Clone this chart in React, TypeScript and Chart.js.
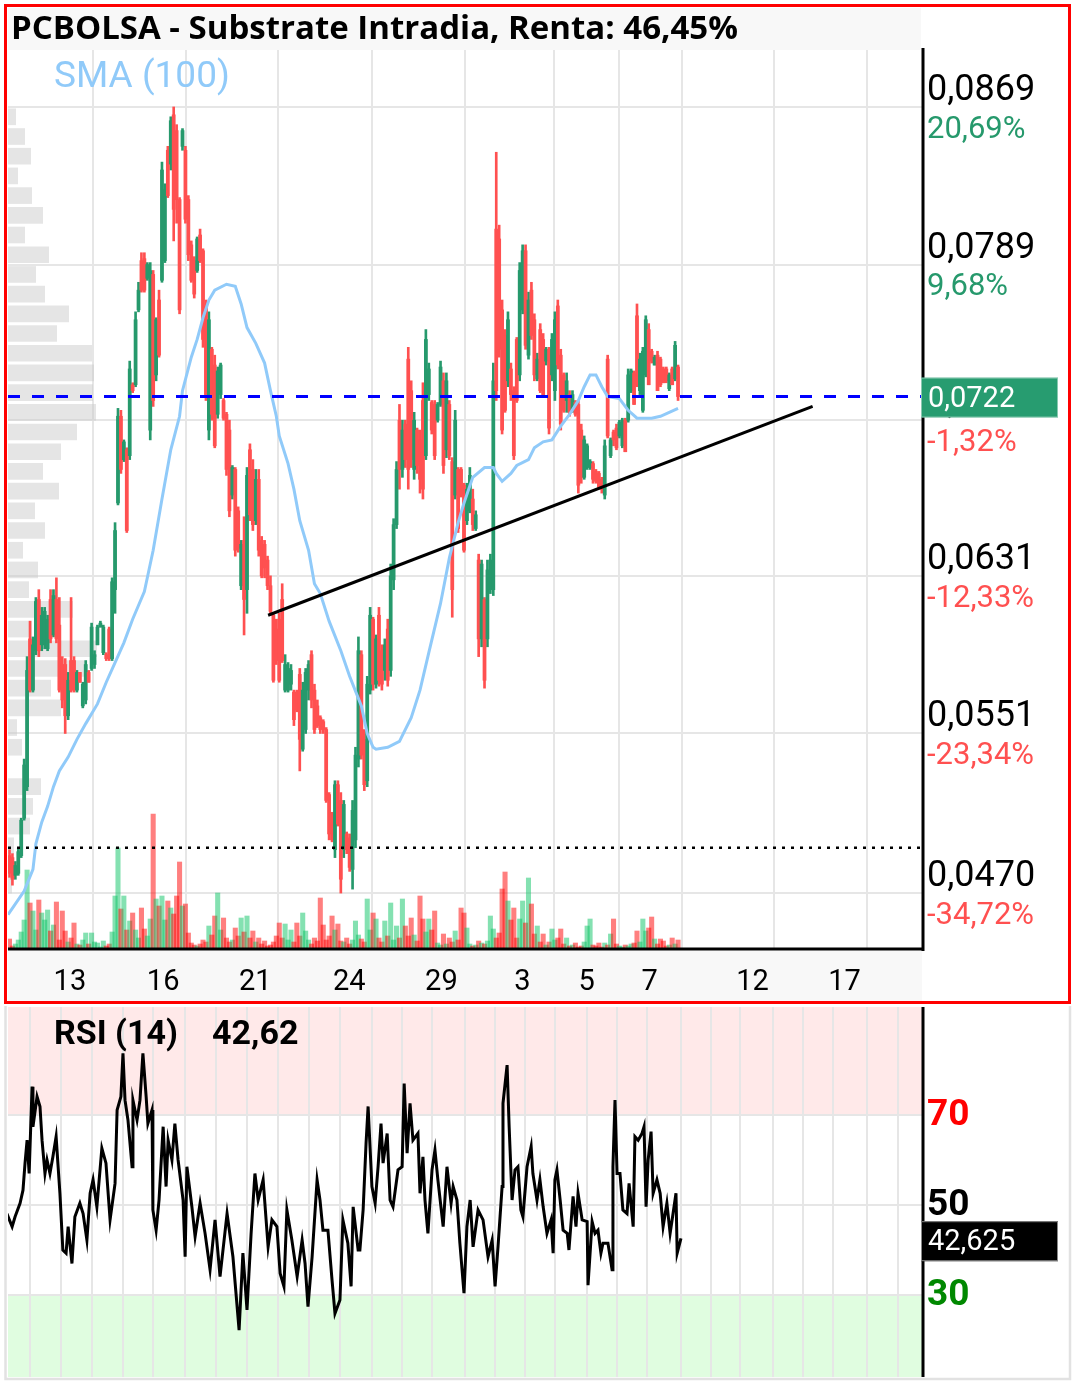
import React, { useEffect, useRef } from 'react';
import { Chart, registerables } from 'chart.js';
Chart.register(...registerables);

// ---------------- data ----------------
const openP = [
0.0489,0.0488,0.0479,0.0480,0.0489,0.0508,0.0524,0.0599,0.0573,0.0593,
0.0619,0.0596,0.0596,0.0594,0.0619,0.0601,0.0619,0.0606,0.0586,0.0586,
0.0560,0.0588,0.0588,0.0573,0.0582,0.0565,0.0568,0.0582,0.0584,0.0586,
0.0596,0.0605,0.0592,0.0591,0.0604,0.0589,0.0624,0.0668,0.0712,0.0690,
0.0695,0.0692,0.0728,0.0728,0.0766,0.0791,0.0792,0.0782,0.0705,0.0784,
0.0733,0.0771,0.0781,0.0791,0.0847,0.0840,0.0865,0.0857,0.0822,0.0849,
0.0847,0.0822,0.0799,0.0791,0.0786,0.0804,0.0796,0.0768,0.0705,0.0746,
0.0738,0.0713,0.0723,0.0720,0.0713,0.0705,0.0672,0.0685,0.0664,0.0626,
0.0649,0.0624,0.0695,0.0685,0.0659,0.0680,0.0649,0.0647,0.0639,0.0626,
0.0611,0.0604,0.0609,0.0619,0.0573,0.0573,0.0576,0.0572,0.0572,0.0581,
0.0543,0.0553,0.0573,0.0591,0.0573,0.0565,0.0559,0.0557,0.0553,0.0520,
0.0510,0.0492,0.0525,0.0517,0.0492,0.0500,0.0498,0.0482,0.0497,0.0538,
0.0591,0.0548,0.0527,0.0573,0.0609,0.0576,0.0611,0.0593,0.0583,0.0604,
0.0583,0.0629,0.0657,0.0710,0.0685,0.0708,0.0741,0.0725,0.0685,0.0705,
0.0700,0.0720,0.0692,0.0723,0.0719,0.0718,0.0710,0.0718,0.0730,0.0695,
0.0718,0.0689,0.0672,0.0685,0.0685,0.0677,0.0659,0.0664,0.0670,0.0655,
0.0639,0.0599,0.0619,0.0599,0.0624,0.0624,0.0807,0.0802,0.0766,0.0753,
0.0730,0.0736,0.0725,0.0751,0.0733,0.0766,0.0796,0.0743,0.0776,0.0761,
0.0731,0.0756,0.0751,0.0740,0.0746,0.0733,0.0725,0.0768,0.0743,0.0733,
0.0720,0.0723,0.0715,0.0719,0.0718,0.0705,0.0681,0.0686,0.0686,0.0688,
0.0684,0.0683,0.0680,0.0672,0.0741,0.0692,0.0704,0.0706,0.0702,0.0697,
0.0710,0.0710,0.0725,0.0734,0.0763,0.0725,0.0715,0.0733,0.0756,0.0745,
0.0738,0.0743,0.0741,0.0736,0.0736,0.0726,0.0736,0.0731,0.0737];

const highP = [
0.0492,0.0490,0.0486,0.0493,0.0508,0.0538,0.0590,0.0608,0.0600,0.0620,
0.0624,0.0615,0.0615,0.0611,0.0624,0.0624,0.0630,0.0620,0.0590,0.0589,
0.0582,0.0620,0.0590,0.0583,0.0582,0.0577,0.0588,0.0583,0.0607,0.0593,
0.0606,0.0608,0.0606,0.0592,0.0605,0.0630,0.0658,0.0716,0.0715,0.0700,
0.0696,0.0740,0.0729,0.0765,0.0780,0.0795,0.0795,0.0790,0.0790,0.0786,
0.0762,0.0776,0.0841,0.0830,0.0849,0.0864,0.0869,0.0860,0.0823,0.0858,
0.0849,0.0824,0.0801,0.0793,0.0803,0.0807,0.0797,0.0771,0.0765,0.0747,
0.0743,0.0737,0.0739,0.0721,0.0714,0.0710,0.0687,0.0686,0.0666,0.0649,
0.0661,0.0686,0.0698,0.0690,0.0685,0.0685,0.0651,0.0649,0.0641,0.0631,
0.0612,0.0609,0.0612,0.0627,0.0591,0.0587,0.0586,0.0573,0.0573,0.0584,
0.0577,0.0584,0.0588,0.0593,0.0576,0.0568,0.0560,0.0558,0.0554,0.0521,
0.0511,0.0527,0.0527,0.0521,0.0517,0.0501,0.0500,0.0517,0.0544,0.0600,
0.0593,0.0553,0.0580,0.0615,0.0610,0.0601,0.0615,0.0596,0.0599,0.0609,
0.0637,0.0660,0.0689,0.0718,0.0710,0.0710,0.0747,0.0730,0.0714,0.0706,
0.0705,0.0729,0.0756,0.0739,0.0720,0.0720,0.0719,0.0740,0.0734,0.0734,
0.0720,0.0691,0.0715,0.0686,0.0686,0.0678,0.0678,0.0686,0.0675,0.0664,
0.0642,0.0639,0.0620,0.0639,0.0642,0.0739,0.0846,0.0809,0.0771,0.0756,
0.0765,0.0739,0.0727,0.0752,0.0790,0.0799,0.0799,0.0775,0.0780,0.0764,
0.0744,0.0759,0.0754,0.0747,0.0747,0.0754,0.0765,0.0771,0.0746,0.0734,
0.0734,0.0725,0.0725,0.0720,0.0720,0.0708,0.0702,0.0698,0.0690,0.0689,
0.0685,0.0684,0.0681,0.0700,0.0743,0.0701,0.0705,0.0708,0.0710,0.0711,
0.0711,0.0736,0.0736,0.0735,0.0769,0.0744,0.0747,0.0763,0.0759,0.0746,
0.0743,0.0745,0.0742,0.0737,0.0737,0.0734,0.0737,0.0750,0.0738];

const lowP = [
0.0478,0.0474,0.0477,0.0479,0.0488,0.0507,0.0522,0.0572,0.0572,0.0591,
0.0590,0.0593,0.0594,0.0593,0.0597,0.0600,0.0597,0.0572,0.0564,0.0551,
0.0558,0.0572,0.0572,0.0572,0.0577,0.0564,0.0566,0.0577,0.0583,0.0584,
0.0596,0.0605,0.0591,0.0588,0.0588,0.0588,0.0612,0.0667,0.0683,0.0689,
0.0653,0.0690,0.0724,0.0727,0.0765,0.0775,0.0775,0.0781,0.0700,0.0717,
0.0730,0.0742,0.0780,0.0790,0.0823,0.0837,0.0801,0.0810,0.0764,0.0847,
0.0810,0.0791,0.0780,0.0772,0.0785,0.0790,0.0747,0.0720,0.0700,0.0710,
0.0696,0.0711,0.0721,0.0710,0.0682,0.0661,0.0670,0.0641,0.0643,0.0624,
0.0601,0.0612,0.0659,0.0654,0.0657,0.0641,0.0630,0.0630,0.0624,0.0611,
0.0577,0.0586,0.0577,0.0587,0.0572,0.0572,0.0573,0.0555,0.0562,0.0532,
0.0542,0.0551,0.0568,0.0564,0.0551,0.0554,0.0551,0.0551,0.0516,0.0497,
0.0496,0.0488,0.0504,0.0470,0.0488,0.0490,0.0481,0.0472,0.0493,0.0534,
0.0538,0.0522,0.0524,0.0571,0.0573,0.0574,0.0575,0.0573,0.0578,0.0575,
0.0580,0.0624,0.0655,0.0675,0.0681,0.0686,0.0675,0.0686,0.0680,0.0683,
0.0673,0.0670,0.0690,0.0720,0.0703,0.0690,0.0709,0.0717,0.0683,0.0691,
0.0690,0.0610,0.0670,0.0653,0.0671,0.0643,0.0657,0.0663,0.0654,0.0654,
0.0590,0.0595,0.0574,0.0595,0.0622,0.0621,0.0720,0.0742,0.0703,0.0714,
0.0727,0.0720,0.0690,0.0719,0.0730,0.0764,0.0746,0.0741,0.0751,0.0730,
0.0730,0.0724,0.0722,0.0738,0.0703,0.0730,0.0720,0.0736,0.0705,0.0714,
0.0714,0.0712,0.0714,0.0712,0.0673,0.0678,0.0680,0.0685,0.0685,0.0678,
0.0678,0.0675,0.0673,0.0670,0.0701,0.0691,0.0697,0.0695,0.0701,0.0696,
0.0694,0.0709,0.0724,0.0718,0.0727,0.0723,0.0714,0.0732,0.0728,0.0739,
0.0738,0.0725,0.0727,0.0729,0.0729,0.0725,0.0728,0.0730,0.0720];

const closeP = [
0.0480,0.0477,0.0484,0.0491,0.0507,0.0535,0.0583,0.0573,0.0596,0.0618,
0.0593,0.0611,0.0613,0.0609,0.0599,0.0621,0.0599,0.0573,0.0568,0.0560,
0.0578,0.0573,0.0573,0.0582,0.0577,0.0576,0.0586,0.0577,0.0605,0.0591,
0.0605,0.0607,0.0605,0.0589,0.0589,0.0628,0.0654,0.0712,0.0685,0.0699,
0.0654,0.0736,0.0725,0.0761,0.0776,0.0776,0.0776,0.0789,0.0786,0.0720,
0.0761,0.0743,0.0837,0.0827,0.0824,0.0862,0.0817,0.0822,0.0766,0.0857,
0.0812,0.0794,0.0781,0.0774,0.0802,0.0791,0.0751,0.0723,0.0761,0.0713,
0.0697,0.0735,0.0738,0.0711,0.0685,0.0664,0.0686,0.0644,0.0645,0.0647,
0.0619,0.0682,0.0662,0.0657,0.0680,0.0644,0.0631,0.0635,0.0626,0.0613,
0.0578,0.0588,0.0578,0.0588,0.0586,0.0584,0.0583,0.0558,0.0563,0.0548,
0.0573,0.0582,0.0586,0.0568,0.0553,0.0555,0.0553,0.0553,0.0517,0.0500,
0.0497,0.0525,0.0505,0.0477,0.0515,0.0492,0.0483,0.0512,0.0540,0.0593,
0.0540,0.0525,0.0576,0.0611,0.0576,0.0599,0.0578,0.0576,0.0596,0.0578,
0.0631,0.0657,0.0685,0.0685,0.0705,0.0690,0.0685,0.0690,0.0710,0.0687,
0.0680,0.0675,0.0751,0.0736,0.0705,0.0692,0.0718,0.0737,0.0687,0.0730,
0.0692,0.0624,0.0710,0.0655,0.0672,0.0644,0.0675,0.0682,0.0657,0.0662,
0.0599,0.0637,0.0578,0.0634,0.0639,0.0730,0.0725,0.0746,0.0705,0.0715,
0.0761,0.0723,0.0692,0.0720,0.0786,0.0796,0.0748,0.0771,0.0753,0.0733,
0.0741,0.0725,0.0723,0.0746,0.0706,0.0751,0.0761,0.0738,0.0708,0.0715,
0.0730,0.0714,0.0723,0.0713,0.0677,0.0681,0.0700,0.0697,0.0689,0.0680,
0.0679,0.0676,0.0675,0.0697,0.0702,0.0700,0.0700,0.0696,0.0709,0.0710,
0.0694,0.0733,0.0735,0.0718,0.0728,0.0741,0.0745,0.0761,0.0728,0.0740,
0.0742,0.0725,0.0728,0.0729,0.0730,0.0733,0.0728,0.0748,0.0722];

const volume = [
11,4,6,10,18,30,80,47,39,20,
50,37,30,40,19,25,48,10,39,19,
8,12,27,6,5,10,17,6,17,8,
7,3,9,4,6,18,54,102,41,54,
20,29,37,20,12,42,21,14,31,136,
51,44,54,30,49,42,36,54,88,44,
46,17,7,5,4,6,10,8,24,15,
34,57,20,32,12,8,10,22,14,32,
18,34,12,19,8,12,6,9,4,5,
8,14,27,12,26,10,20,8,27,14,
37,19,10,6,12,9,52,25,10,14,
34,20,26,9,8,12,6,10,29,15,
11,8,51,20,37,31,12,8,29,14,
47,10,24,12,51,24,14,32,15,9,
54,31,18,31,20,39,7,5,16,6,
12,8,19,10,42,37,22,6,4,5,
9,7,6,9,34,21,12,17,61,78,
49,30,42,12,31,49,27,72,46,16,
24,8,16,5,8,21,10,12,21,6,
12,4,5,7,3,4,8,24,31,5,
4,7,3,7,5,16,31,6,4,3,
5,4,6,7,19,8,31,19,22,33,
11,6,11,9,4,5,12,6,10];

const smaAt = [-0.5,5,8,9,11,13,15,17,20,23,26,30,33,36,39,42,46,49,52,55,58,59,62,64,66,68,70,74,77,79,81,84,87,89,91,92,95,97,99,102,104,106,109,113,116,120,122,124,125,129,133,137,140,143,147,150,153,155,158,162,165,166,168,171,173,177,179,182,185,188,191,194,196,198,200,202,204,208,211,214,219,222,225,228];
const smaVal = [0.0459,0.0471,0.0482,0.0495,0.0506,0.0514,0.0524,0.0532,0.0539,0.0548,0.0556,0.0566,0.0577,0.0587,0.0597,0.0609,0.0623,0.0644,0.0670,0.0695,0.0712,0.0725,0.0742,0.0751,0.0762,0.0771,0.0776,0.0779,0.0778,0.0769,0.0757,0.0749,0.0739,0.0725,0.0712,0.0702,0.0688,0.0675,0.0659,0.0644,0.0627,0.0622,0.0608,0.0593,0.0580,0.0565,0.0551,0.0544,0.0543,0.0544,0.0547,0.0559,0.0573,0.0592,0.0617,0.0640,0.0658,0.0668,0.0681,0.0686,0.0686,0.0683,0.0679,0.0683,0.0687,0.0690,0.0696,0.0699,0.0700,0.0707,0.0713,0.0720,0.0727,0.0733,0.0733,0.0727,0.0722,0.0721,0.0715,0.0711,0.0711,0.0712,0.0714,0.0716];

const rsiAt = [-0.9,0.9,1.9,3.6,4.6,5.3,6.0,6.7,7.7,8.0,
9.4,10.4,11.1,12.1,12.8,13.8,14.8,15.9,16.5,17.2,
18.2,19.3,20.0,21.3,22.3,24.0,25.1,26.4,27.5,28.5,
29.8,31.5,32.9,34.3,36.0,36.7,38.0,38.7,39.4,40.4,
41.8,42.1,43.5,44.5,45.5,46.6,47.2,48.6,48.9,50.0,
51.0,52.4,53.4,54.1,55.4,56.4,57.5,59.2,59.9,60.5,
62.2,63.3,65.0,66.7,68.4,70.1,71.8,74.2,76.2,78.3,
79.6,81.0,82.4,83.7,84.8,86.5,88.2,89.5,91.2,92.3,
93.6,94.6,96.3,98.1,99.8,100.8,101.8,103.2,104.9,105.9,
106.9,108.6,110.0,111.0,112.7,113.7,115.4,116.5,117.2,118.9,
119.5,120.6,121.6,122.3,123.6,124.7,125.7,126.7,127.4,128.8,
129.8,130.8,132.5,133.9,134.6,135.6,136.6,137.6,139.3,140.0,
141.0,141.7,142.7,144.1,145.1,146.1,147.9,149.2,150.6,151.3,
152.6,153.6,155.0,156.0,157.1,158.1,159.8,161.5,163.2,164.6,
165.6,166.6,168.0,168.3,169.7,170.4,171.4,172.4,173.4,174.4,
175.1,176.5,177.9,178.5,179.9,180.9,182.0,183.3,184.7,185.4,
186.0,186.7,187.8,188.8,190.2,190.8,192.2,193.2,193.9,195.3,
197.0,197.3,198.7,199.7,200.7,201.7,202.4,204.1,205.5,205.8,
206.5,207.2,208.2,209.2,210.6,211.3,212.7,213.3,214.4,215.7,
216.4,217.1,217.8,218.8,219.5,220.8,221.9,222.9,224.2,225.3,
226.3,227.3,227.7,229.0];
const rsiVal = [48.1,45.2,47.4,50.4,53.3,59.3,64.4,57.0,76.3,67.4,
74.1,71.9,64.4,57.0,60.0,57.0,60.7,65.2,59.3,52.6,
40.0,39.3,45.2,37.0,47.4,50.4,48.1,42.2,52.6,55.6,
49.6,62.6,59.3,46.7,54.8,71.1,74.1,83.7,73.3,68.9,
58.5,73.3,68.9,73.3,83.7,74.1,68.1,71.1,48.9,44.4,
51.1,67.4,54.1,64.4,60.0,68.1,60.0,51.1,38.5,58.5,
49.6,43.0,50.4,43.7,35.6,46.7,34.1,48.1,38.5,22.2,
39.3,26.7,43.7,57.0,51.1,55.6,40.7,46.7,45.2,34.8,
31.9,48.9,42.2,34.1,42.2,37.0,27.4,38.5,55.6,51.1,
44.4,44.4,33.3,25.9,28.9,46.7,41.5,31.9,49.6,40.0,
40.0,48.9,63.7,71.9,54.1,50.4,58.5,68.1,59.3,65.9,
51.1,49.6,57.8,58.5,77.0,61.5,72.6,64.4,65.9,52.6,
60.7,51.1,43.7,57.8,62.2,55.6,45.2,58.5,50.4,54.1,
51.1,41.5,30.4,45.2,51.1,40.7,48.9,46.7,38.5,42.2,
31.9,40.7,54.1,72.6,81.1,67.4,51.1,57.8,58.5,48.9,
47.4,58.5,63.0,57.0,51.1,55.6,49.6,43.7,46.7,39.3,
55.6,57.8,51.1,44.4,43.7,40.0,51.9,45.2,52.6,46.7,
46.3,32.2,46.3,43.7,44.4,39.3,41.5,41.5,35.6,58.5,
73.3,57.0,57.0,48.9,48.1,54.8,45.2,65.2,64.4,65.9,
67.4,49.6,60.0,66.3,52.6,55.6,52.6,45.2,50.4,43.7,
48.1,52.6,39.3,42.6];

const profileLevel = [0.0864,0.0854,0.0844,0.0834,0.0824,0.0814,0.0804,0.0794,0.0784,0.0774,0.0764,0.0754,0.0744,0.0734,0.0724,0.0714,0.0704,0.0694,0.0684,0.0674,0.0664,0.0654,0.0644,0.0634,0.0624,0.0614,0.0604,0.0594,0.0584,0.0574,0.0564,0.0554,0.0544,0.0534,0.0524,0.0514,0.0504,0.0494,0.0484,0.0474];
const profileSize = [8,17,23,10,24,35,17,41,28,37,61,49,84,86,85,88,69,53,35,51,27,37,15,30,21,65,24,89,79,43,53,9,14,0,33,25,22,6,0,4];

const priceTicks = [0.0869, 0.0789, 0.0710, 0.0631, 0.0551, 0.0470];
const priceTickLabels = ['0,0869', '0,0789', '0,0710', '0,0631', '0,0551', '0,0470'];
const pctTickLabels = ['20,69%', '9,68%', '-1,32%', '-12,33%', '-23,34%', '-34,72%'];
const dayLabelAt = [20.6, 52.4, 83.8, 115.9, 147.3, 174.9, 196.8, 218.3, 253.4, 284.8];
const dayLabels = ['13', '16', '21', '24', '29', '3', '5', '7', '12', '17'];
const dayGridAt = [28.5, 60.2, 91.6, 123.7, 155.5, 185.8, 207.7, 229.2, 260.6, 292.3];
const rsiGridAt = [7.0,17.6,28.1,38.7,48.9,59.9,70.4,81.0,91.6,102.1,112.7,123.6,133.9,144.1,155.4,165.6,175.8,186.1,197.0,207.2,217.5,229.0,239.3,249.1,260.4,270.6,280.8,292.5,303.0];
const rsiLevels = [70, 50, 30];
const rsiLevelLabels = ['70', '50', '30'];
const trendAt = [88.2, 273.9];
const trendVal = [0.0611, 0.0717];
const lastPrice = 0.0722;
const lastPriceLabel = '0,0722';
const refLevel = 0.0493;
const lastRsi = 42.625;
const lastRsiLabel = '42,625';
const titleText = 'PCBOLSA - Substrate Intradia, Renta: 46,45%';
const smaTitle = 'SMA (100)';
const rsiTitle = 'RSI (14)';
const rsiTitleValue = '42,62';

// ---------------- styles ----------------
const FONT = 'Roboto, "Noto Sans", sans-serif';
const GREEN = '#26996c';
const RED = '#ff5050';
const W = 1076;
const MAIN_H = 1004;
const RSI_H = 381;
const X_MIN = -0.51;
const X_MAX = 311.2;

const mainDecor = {
  id: 'mainDecor',
  beforeDraw(chart: any) {
    const { ctx } = chart;
    ctx.save();
    ctx.fillStyle = '#ffffff';
    ctx.fillRect(0, 0, chart.width, chart.height);
    ctx.fillStyle = '#f8f8f8';
    ctx.fillRect(8, 8, 913, 42);
    ctx.fillRect(8, 951, 914, 50);
    ctx.restore();
  },
  beforeDatasetsDraw(chart: any) {
    const { ctx, chartArea: a, scales } = chart;
    ctx.save();
    ctx.strokeStyle = '#e6e6e6';
    ctx.lineWidth = 2;
    ctx.beginPath();
    for (const v of priceTicks) {
      const y = Math.round(scales.y.getPixelForValue(v));
      ctx.moveTo(a.left, y);
      ctx.lineTo(a.right, y);
    }
    for (const v of dayGridAt) {
      const x = Math.round(scales.x.getPixelForValue(v));
      ctx.moveTo(x, a.top);
      ctx.lineTo(x, a.bottom);
    }
    ctx.stroke();
    ctx.restore();
  },
  afterDatasetsDraw(chart: any) {
    const { ctx, chartArea: a, scales } = chart;
    const yS = scales.y;
    const xS = scales.x;
    ctx.save();
    // current price dashed line
    const yl = yS.getPixelForValue(lastPrice);
    ctx.strokeStyle = '#0000ff';
    ctx.lineWidth = 3;
    ctx.setLineDash([12, 12]);
    ctx.beginPath();
    ctx.moveTo(a.left, yl);
    ctx.lineTo(a.right, yl);
    ctx.stroke();
    // reference dotted line
    const yr = yS.getPixelForValue(refLevel);
    ctx.strokeStyle = '#000000';
    ctx.lineWidth = 2.5;
    ctx.setLineDash([3, 6]);
    ctx.beginPath();
    ctx.moveTo(a.left, yr);
    ctx.lineTo(a.right, yr);
    ctx.stroke();
    ctx.setLineDash([]);
    // axis lines
    ctx.strokeStyle = '#000000';
    ctx.lineWidth = 3;
    ctx.beginPath();
    ctx.moveTo(a.right + 1, 48);
    ctx.lineTo(a.right + 1, a.bottom + 1);
    ctx.moveTo(a.left, a.bottom - 1);
    ctx.lineTo(a.right + 2, a.bottom - 1);
    ctx.stroke();
    // right axis labels
    ctx.textAlign = 'left';
    ctx.textBaseline = 'middle';
    priceTicks.forEach((v, k) => {
      const y = yS.getPixelForValue(v);
      ctx.fillStyle = '#000000';
      ctx.font = `36px ${FONT}`;
      ctx.fillText(priceTickLabels[k], 927, y - 16);
      ctx.fillStyle = pctTickLabels[k].startsWith('-') ? RED : GREEN;
      ctx.font = `31px ${FONT}`;
      ctx.fillText(pctTickLabels[k], 927, y + 23);
    });
    // current price box
    ctx.fillStyle = '#279c70';
    ctx.fillRect(921, yl - 19, 137, 40);
    ctx.strokeStyle = 'rgba(255,255,255,0.45)';
    ctx.lineWidth = 1;
    ctx.strokeRect(921.5, yl - 18.5, 136, 39);
    ctx.fillStyle = '#ffffff';
    ctx.font = `29px ${FONT}`;
    ctx.fillText(lastPriceLabel, 928, yl + 3);
    // day labels
    ctx.fillStyle = '#000000';
    ctx.textAlign = 'center';
    ctx.font = `29px ${FONT}`;
    dayLabelAt.forEach((v, k) => {
      ctx.fillText(dayLabels[k], xS.getPixelForValue(v), 983);
    });
    // titles
    ctx.textAlign = 'left';
    ctx.fillStyle = '#000000';
    ctx.font = `bold 33px "Open Sans", ${FONT}`;
    ctx.fillText(titleText, 11, 30);
    ctx.fillStyle = '#90caf9';
    ctx.font = `37px ${FONT}`;
    ctx.fillText(smaTitle, 54, 78);
    // red frame
    ctx.strokeStyle = '#ff0000';
    ctx.lineWidth = 3;
    ctx.strokeRect(5.5, 5.5, 1064, 997);
    ctx.restore();
  },
};

const rsiDecor = {
  id: 'rsiDecor',
  beforeDraw(chart: any) {
    const { ctx, chartArea: a, scales } = chart;
    const y70 = scales.y.getPixelForValue(70);
    const y30 = scales.y.getPixelForValue(30);
    ctx.save();
    ctx.fillStyle = '#ffffff';
    ctx.fillRect(0, 0, chart.width, chart.height);
    ctx.fillStyle = '#ffe9e9';
    ctx.fillRect(a.left, a.top, a.right - a.left, y70 - a.top);
    ctx.fillStyle = '#e0fde0';
    ctx.fillRect(a.left, y30, a.right - a.left, a.bottom - y30);
    ctx.restore();
  },
  beforeDatasetsDraw(chart: any) {
    const { ctx, chartArea: a, scales } = chart;
    ctx.save();
    ctx.strokeStyle = '#e6e6e6';
    ctx.lineWidth = 2;
    ctx.beginPath();
    for (const v of rsiLevels) {
      const y = Math.round(scales.y.getPixelForValue(v));
      ctx.moveTo(a.left, y);
      ctx.lineTo(a.right, y);
    }
    for (const v of rsiGridAt) {
      const x = Math.round(scales.x.getPixelForValue(v));
      ctx.moveTo(x, a.top);
      ctx.lineTo(x, a.bottom);
    }
    ctx.stroke();
    ctx.restore();
  },
  afterDatasetsDraw(chart: any) {
    const { ctx, chartArea: a, scales } = chart;
    const yS = scales.y;
    ctx.save();
    ctx.strokeStyle = '#000000';
    ctx.lineWidth = 3;
    ctx.beginPath();
    ctx.moveTo(a.right + 1, a.top);
    ctx.lineTo(a.right + 1, a.bottom);
    ctx.stroke();
    // level labels
    const colors = ['#ff0000', '#000000', '#008800'];
    ctx.textAlign = 'left';
    ctx.textBaseline = 'middle';
    ctx.font = `bold 37px ${FONT}`;
    rsiLevels.forEach((v, k) => {
      ctx.fillStyle = colors[k];
      ctx.fillText(rsiLevelLabels[k], 927, yS.getPixelForValue(v) + 1);
    });
    // value box
    const yv = yS.getPixelForValue(lastRsi);
    ctx.fillStyle = '#000000';
    ctx.fillRect(921, yv - 17, 137, 40);
    ctx.strokeStyle = '#888888';
    ctx.lineWidth = 1;
    ctx.strokeRect(921.5, yv - 16.5, 136, 39);
    ctx.fillStyle = '#ffffff';
    ctx.font = `29px ${FONT}`;
    ctx.fillText(lastRsiLabel, 928, yv + 5);
    // title
    ctx.fillStyle = '#000000';
    ctx.font = `bold 34px ${FONT}`;
    ctx.fillText(rsiTitle, 54, 31);
    ctx.fillText(rsiTitleValue, 212, 31);
    // frame
    ctx.strokeStyle = '#e2e2e2';
    ctx.lineWidth = 2.5;
    ctx.beginPath();
    ctx.moveTo(5.5, 2);
    ctx.lineTo(5.5, 375);
    ctx.lineTo(1070, 375);
    ctx.lineTo(1070, 2);
    ctx.stroke();
    ctx.restore();
  },
};

function candleColor(i: number, up: string, down: string) {
  return closeP[i] >= openP[i] ? up : down;
}

export default function App() {
  const mainRef = useRef<HTMLCanvasElement>(null);
  const rsiRef = useRef<HTMLCanvasElement>(null);

  useEffect(() => {
    const idx = openP.map((_, i) => i);
    const main = new Chart(mainRef.current as HTMLCanvasElement, {
      type: 'bar',
      data: {
        datasets: [
          {
            type: 'bar',
            label: 'profile',
            indexAxis: 'y',
            xAxisID: 'xProf',
            yAxisID: 'yProf',
            data: profileLevel.map((p, k) => ({ x: profileSize[k], y: p })),
            backgroundColor: 'rgba(200,200,200,0.48)',
            borderWidth: 0,
            barPercentage: 0.95,
            categoryPercentage: 1,
            grouped: false,
            order: 10,
          } as any,
          {
            type: 'bar',
            label: 'volume',
            xAxisID: 'x',
            yAxisID: 'yVol',
            data: idx.map((i) => ({ x: i, y: volume[i] })),
            backgroundColor: idx.map((i) => candleColor(i, 'rgba(10,195,100,0.5)', 'rgba(255,0,0,0.5)')),
            borderWidth: 0,
            barThickness: 4.4,
            grouped: false,
            order: 9,
          } as any,
          {
            type: 'bar',
            label: 'wicks',
            xAxisID: 'x',
            yAxisID: 'y',
            data: idx.map((i) => ({ x: i, y: [lowP[i], highP[i]] })),
            backgroundColor: idx.map((i) => candleColor(i, GREEN, RED)),
            borderWidth: 0,
            barThickness: 2,
            grouped: false,
            minBarLength: 1,
            order: 8,
          } as any,
          {
            type: 'bar',
            label: 'bodies',
            xAxisID: 'x',
            yAxisID: 'y',
            data: idx.map((i) => ({ x: i, y: [openP[i], closeP[i]] })),
            backgroundColor: idx.map((i) => candleColor(i, GREEN, RED)),
            borderWidth: 0,
            barThickness: 3.1,
            grouped: false,
            minBarLength: 1.5,
            order: 7,
          } as any,
          {
            type: 'line',
            label: 'SMA (100)',
            xAxisID: 'x',
            yAxisID: 'y',
            data: smaAt.map((a, k) => ({ x: a, y: smaVal[k] })),
            borderColor: '#90caf9',
            borderWidth: 3,
            pointRadius: 0,
            tension: 0,
            order: 3,
          } as any,
          {
            type: 'line',
            label: 'trend',
            xAxisID: 'x',
            yAxisID: 'y',
            data: trendAt.map((a, k) => ({ x: a, y: trendVal[k] })),
            borderColor: '#000000',
            borderWidth: 3,
            pointRadius: 0,
            order: 2,
          } as any,
        ],
      },
      options: {
        responsive: false,
        animation: false,
        events: [],
        layout: { padding: { left: 8, right: W - 922, top: 50, bottom: MAIN_H - 950 } },
        plugins: { legend: { display: false }, tooltip: { enabled: false } },
        scales: {
          x: { type: 'linear', display: false, offset: false, min: X_MIN, max: X_MAX },
          y: { type: 'linear', display: false, offset: false, min: 0.04411, max: 0.08979 },
          yProf: { type: 'linear', display: false, offset: false, min: 0.04411, max: 0.08979 },
          xProf: { type: 'linear', display: false, offset: false, min: 0, max: 914 },
          yVol: { type: 'linear', display: false, offset: false, min: 0, max: 900 },
        },
      } as any,
      plugins: [mainDecor],
    });

    const rsi = new Chart(rsiRef.current as HTMLCanvasElement, {
      type: 'line',
      data: {
        datasets: [
          {
            label: 'RSI (14)',
            data: rsiAt.map((a, k) => ({ x: a, y: rsiVal[k] })),
            borderColor: '#000000',
            borderWidth: 3,
            pointRadius: 0,
            tension: 0,
          },
        ],
      },
      options: {
        responsive: false,
        animation: false,
        events: [],
        layout: { padding: { left: 8, right: W - 922, top: 3, bottom: RSI_H - 373 } },
        plugins: { legend: { display: false }, tooltip: { enabled: false } },
        scales: {
          x: { type: 'linear', display: false, offset: false, min: X_MIN, max: X_MAX },
          y: { type: 'linear', display: false, offset: false, min: 11.78, max: 94 },
        },
      } as any,
      plugins: [rsiDecor],
    });

    return () => {
      main.destroy();
      rsi.destroy();
    };
  }, []);

  return (
    <div style={{ position: 'absolute', left: 0, top: 0, width: W, height: 1385, background: '#ffffff' }}>
      <canvas
        ref={mainRef}
        width={W}
        height={MAIN_H}
        style={{ position: 'absolute', left: 0, top: 0, width: W, height: MAIN_H }}
      />
      <canvas
        ref={rsiRef}
        width={W}
        height={RSI_H}
        style={{ position: 'absolute', left: 0, top: MAIN_H, width: W, height: RSI_H }}
      />
    </div>
  );
}
